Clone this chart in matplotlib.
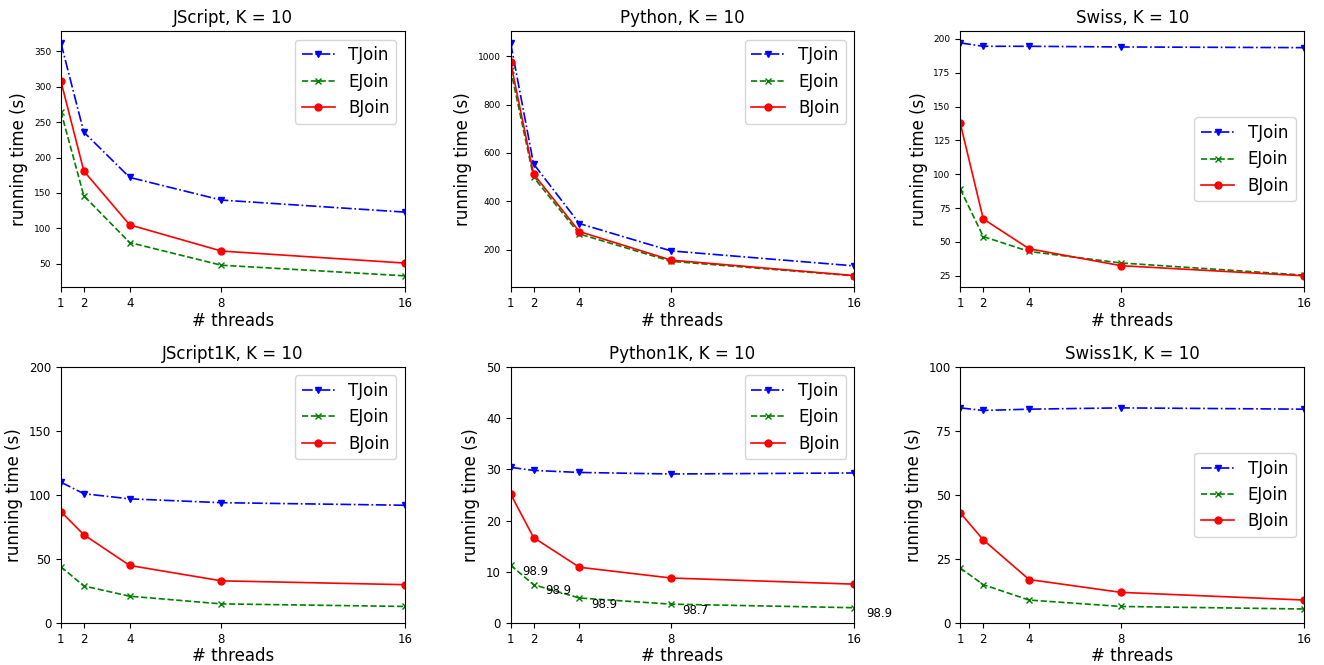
import matplotlib
matplotlib.use("Agg")
import matplotlib.pyplot as plt

threads = [1, 2, 4, 8, 16]

titles = ["JScript, K = 10", "Python, K = 10", "Swiss, K = 10",
          "JScript1K, K = 10", "Python1K, K = 10", "Swiss1K, K = 10"]

tjoin = [
    [362, 236, 172, 140, 123],
    [1055, 555, 308, 195, 133],
    [197, 194.5, 194.5, 194, 193.5],
    [110, 101, 97, 94, 92],
    [30.4, 29.8, 29.4, 29.1, 29.3],
    [84, 83, 83.5, 84, 83.5],
]
ejoin = [
    [265, 146, 80, 48, 33],
    [945, 500, 265, 152, 92],
    [89, 54, 43, 34.5, 25.5],
    [44, 29, 21, 15, 13],
    [11.3, 7.5, 4.9, 3.7, 3.0],
    [21.5, 15, 9, 6.5, 5.5],
]
bjoin = [
    [308, 181, 105, 68, 51],
    [975, 513, 275, 157, 93],
    [137.5, 67, 45, 32.5, 25],
    [87, 69, 45, 33, 30],
    [25.2, 16.7, 10.9, 8.8, 7.6],
    [43, 32.5, 17, 12, 9],
]

python1k_labels = ["98.9", "98.9", "98.9", "98.7", "98.9"]

bottom_ylims = [(0, 200), (0, 50), (0, 100)]
bottom_yticks = [[0, 50, 100, 150, 200], [0, 10, 20, 30, 40, 50], [0, 25, 50, 75, 100]]
legend_locs = ["upper right", "upper right", "center right",
               "upper right", "upper right", "center right"]

fig, axes = plt.subplots(2, 3, figsize=(13.24, 6.65), dpi=100)
fig.subplots_adjust(left=0.046, right=0.985, top=0.953, bottom=0.063,
                    wspace=0.308, hspace=0.31)

for i, ax in enumerate(axes.flat):
    ax.plot(threads, tjoin[i], color="blue", linestyle="-.", marker="v",
            markersize=5, linewidth=1.2, label="TJoin")
    ax.plot(threads, ejoin[i], color="green", linestyle="--", marker="x",
            markersize=5, linewidth=1.2, label="EJoin")
    ax.plot(threads, bjoin[i], color="red", linestyle="-", marker="o",
            markersize=5, linewidth=1.2, label="BJoin")
    ax.set_title(titles[i], fontsize=12)
    ax.set_xlabel("# threads", fontsize=12, labelpad=1)
    ax.set_ylabel("running time (s)", fontsize=12)
    ax.set_xlim(1, 16)
    ax.set_xticks(threads)
    ax.tick_params(axis="x", labelsize=8.5)
    if i < 3:
        ax.tick_params(axis="y", labelsize=6.5)
    else:
        ax.set_ylim(*bottom_ylims[i - 3])
        ax.set_yticks(bottom_yticks[i - 3])
        ax.tick_params(axis="y", labelsize=8.5)
    ax.legend(loc=legend_locs[i], fontsize=12)

ax = axes[1, 1]
for x, y, s in zip(threads, ejoin[4], python1k_labels):
    ax.annotate(s, xy=(x, y), xytext=(x + 0.5, y - 1.2), textcoords="data",
                fontsize=8.5, ha="left", va="center", annotation_clip=False)

fig.savefig("out.png", dpi=100)
